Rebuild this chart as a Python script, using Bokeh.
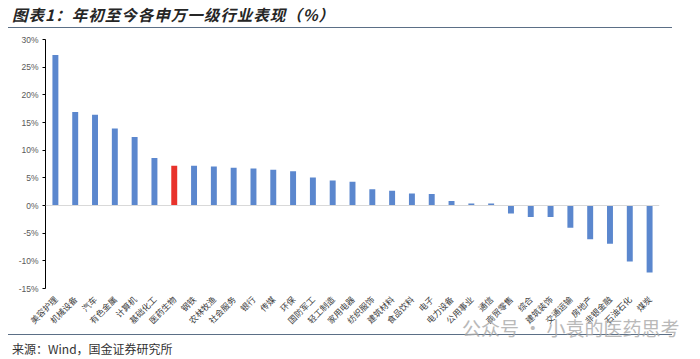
from bokeh.plotting import figure
from bokeh.models import (ColumnDataSource, FixedTicker, PrintfTickFormatter, Span,
                          Range1d, FactorRange, Div)
from bokeh.layouts import column
from bokeh.embed import file_html
from bokeh.resources import INLINE

categories = ["美容护理", "机械设备", "汽车", "有色金属", "计算机", "基础化工", "医药生物",
              "钢铁", "农林牧渔", "社会服务", "银行", "传媒", "环保", "国防军工", "轻工制造",
              "家用电器", "纺织服饰", "建筑材料", "食品饮料", "电子", "电力设备", "公用事业",
              "通信", "商贸零售", "综合", "建筑装饰", "交通运输", "房地产", "非银金融",
              "石油石化", "煤炭"]
returns_pct = [27.2, 16.9, 16.4, 13.9, 12.4, 8.6, 7.2,
               7.2, 7.05, 6.8, 6.7, 6.45, 6.2, 5.05, 4.5,
               4.3, 2.95, 2.65, 2.15, 2.1, 0.8, 0.35,
               0.35, -1.45, -2.1, -2.1, -4.0, -6.1, -6.9,
               -10.1, -12.1]
highlight = "医药生物"
y_ticks = [-15, -10, -5, 0, 5, 10, 15, 20, 25, 30]

BLUE = "#5B87CE"
RED = "#E8322B"
RULE = "#5B6F86"
colors = [RED if c == highlight else BLUE for c in categories]
src = ColumnDataSource(dict(cat=categories, val=returns_pct, color=colors))

CJK = "Noto Sans CJK SC"
W = 692

title_html = (
    '<div style="box-sizing:border-box;margin-left:8px;width:664px;height:28px;'
    'padding-top:5px;padding-left:4px;border-bottom:1.5px solid %s;'
    'font-family:\'Noto Sans CJK SC\';font-size:15.5px;font-weight:bold;font-style:italic;'
    'letter-spacing:1px;line-height:18px;color:#262626;white-space:nowrap;">'
    '图表1：年初至今各申万一级行业表现（%%）</div>' % RULE
)
title = Div(text=title_html, width=W, height=28, margin=(0, 0, 0, 0))

p = figure(x_range=FactorRange(factors=categories), y_range=Range1d(-15, 30),
           width=W, height=306, output_backend="svg", toolbar_location=None,
           min_border_left=45, min_border_right=33, min_border_top=11, min_border_bottom=46,
           margin=(0, 0, 0, 0))
p.vbar(x="cat", top="val", width=0.3, bottom=0, fill_color="color", line_color=None, source=src)

p.add_layout(Span(location=0, dimension="width", line_color="#D9D9D9", line_width=1.2))

p.xgrid.visible = False
p.ygrid.visible = False
p.outline_line_color = None

p.yaxis.ticker = FixedTicker(ticks=y_ticks)
p.yaxis.formatter = PrintfTickFormatter(format="%d%%")
p.yaxis.axis_line_color = "black"
p.yaxis.major_tick_line_color = "black"
p.yaxis.major_tick_out = 3
p.yaxis.major_tick_in = 0
p.yaxis.minor_tick_line_color = None
p.yaxis.major_label_text_font = "Liberation Sans"
p.yaxis.major_label_text_font_size = "8.5px"
p.yaxis.major_label_text_color = "#595959"
p.yaxis.major_label_standoff = 4

p.xaxis.axis_line_color = None
p.xaxis.major_tick_line_color = None
p.xaxis.minor_tick_line_color = None
p.xaxis.major_label_orientation = 0.785398
p.xaxis.major_label_text_font = CJK
p.xaxis.major_label_text_font_size = "8.5px"
p.xaxis.major_label_text_color = "#404040"
p.xaxis.major_label_standoff = 3

footer_html = (
    '<div style="position:relative;box-sizing:border-box;margin-left:8px;width:664px;height:24px;'
    'padding-top:7px;padding-left:4px;border-top:1.5px solid %s;'
    'font-family:\'Noto Sans CJK SC\';font-size:12px;line-height:14px;color:#333333;'
    'white-space:nowrap;">来源：Wind，国金证券研究所'
    '<span style="position:absolute;left:454px;top:-17px;font-size:19px;line-height:20px;'
    'color:#A8A8A8;opacity:0.8;">公众号 · 小袁的医药思考</span></div>' % RULE
)
footer = Div(text=footer_html, width=W, height=24, margin=(0, 0, 0, 0))

layout = column(title, p, footer, spacing=0)
open("out.html", "w").write(file_html(layout, INLINE))
